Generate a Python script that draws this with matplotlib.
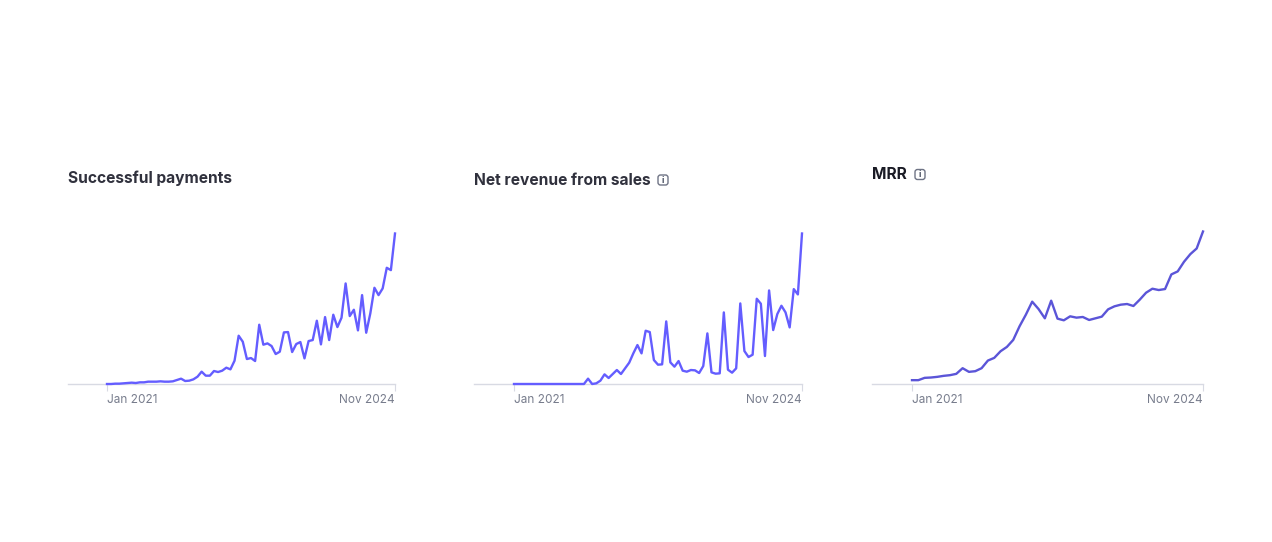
#!/usr/bin/env python3
import numpy as np
import matplotlib
matplotlib.use('Agg')
import matplotlib.pyplot as plt
from matplotlib.patches import FancyBboxPatch
from matplotlib.transforms import IdentityTransform

plt.rcParams['font.family'] = ['Inter', 'DejaVu Sans']

W, H = 1272, 542

payments = [0, 0, 1, 1, 2, 3, 4, 3, 5, 5, 7, 7, 7, 8, 7, 7, 8, 12, 16, 9,
            10, 14, 22, 37, 25, 25, 39, 36, 40, 49, 44, 70, 145, 127, 75, 78, 69, 178, 118, 122,
            114, 90, 97, 155, 156, 96, 120, 126, 77, 129, 132, 190, 119, 201, 132, 208, 171, 199, 302, 204,
            223, 161, 267, 154, 212, 289, 267, 287, 349, 342, 452]
net_revenue = [0, 0, 0, 0, 0, 0, 0, 0, 0, 0, 0, 0, 0, 0, 0, 0, 0, 0, 16, 0,
               2, 10, 29, 18, 30, 42, 30, 47, 64, 92, 117, 92, 160, 156, 72, 58, 59, 188, 65, 52,
               69, 40, 37, 42, 41, 33, 54, 152, 35, 31, 32, 215, 43, 34, 47, 242, 99, 81, 88, 256,
               241, 84, 281, 162, 210, 235, 215, 170, 285, 269, 452]
mrr = [10, 10, 17, 18, 20, 23, 25, 29, 46, 35, 37, 46, 69, 77, 97, 110, 131, 172, 207, 246,
       224, 196, 249, 195, 190, 202, 198, 200, 191, 196, 201, 223, 232, 237, 239, 233, 252, 273, 285, 281,
       284, 328, 337, 366, 389, 406, 457]
tick_labels = ['Jan 2021', 'Nov 2024']


def draw_chart(fig, vals, title, left, first, right, base, top, color, title_y,
               title_color='#30313d', info_x=None):
    ax = fig.add_axes([left / W, 1 - base / H, (right - left) / W, (base - top) / H])
    n = len(vals)
    step = (right - first) / (n - 1)
    ax.plot(np.arange(n), vals, color=color, lw=1.7, solid_joinstyle='round',
            clip_on=False, zorder=3)
    ax.set_xlim(-(first - left) / step, n - 1)
    ax.set_ylim(0, max(vals))
    for s in ['top', 'left', 'right']:
        ax.spines[s].set_visible(False)
    ax.spines['bottom'].set_color('#d8dae3')
    ax.spines['bottom'].set_linewidth(1.0)
    ax.set_yticks([])
    ax.set_xticks([0, n - 1])
    ax.set_xticklabels(tick_labels, fontsize=8.5, color='#777c8c')
    ax.tick_params(axis='x', length=5, width=0.8, color='#d8dae3', pad=2.3)
    labels = ax.get_xticklabels()
    labels[0].set_ha('left')
    labels[1].set_ha('right')
    ax.patch.set_alpha(0)

    fig.text(left / W, 1 - (title_y + 0.8) / H, title, fontsize=11.2, fontweight='bold',
             color=title_color, ha='left', va='center')
    if info_x is not None:
        # small boxed "i" next to the title
        box = FancyBboxPatch((info_x, H - title_y - 5.5), 10, 10,
                             boxstyle='round,pad=0,rounding_size=2.5',
                             transform=IdentityTransform(),
                             fc='none', ec='#6f7485', lw=1.0)
        fig.add_artist(box)
        fig.text((info_x + 5) / W, 1 - (title_y + 0.8) / H, 'i', fontsize=6.5, color='#4f5566',
                 ha='center', va='center', fontweight='bold')
    return ax


fig = plt.figure(figsize=(W / 100, H / 100), dpi=100, facecolor='white')

draw_chart(fig, payments, 'Successful payments', 68, 107, 395, 384, 233.5, '#645dff', 177)
draw_chart(fig, net_revenue, 'Net revenue from sales', 474, 514, 802, 384, 233.5, '#645dff', 179.5,
           info_x=658)
draw_chart(fig, mrr, 'MRR', 872, 912, 1203, 383.5, 231.5, '#5b55d8', 174,
           title_color='#1a1b25', info_x=915)

fig.savefig('out.png', dpi=100)
